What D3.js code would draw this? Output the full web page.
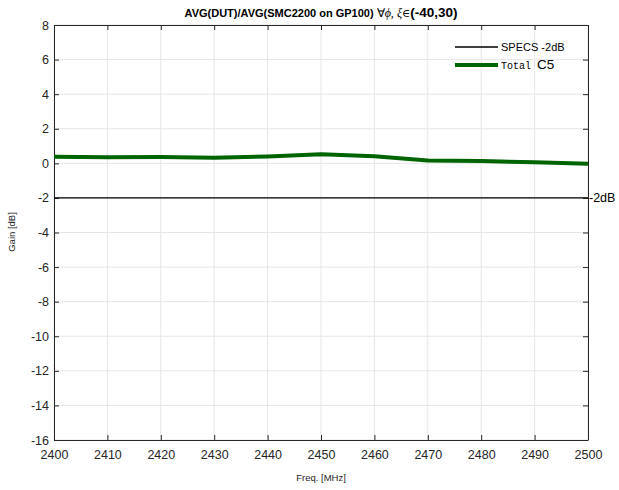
<!DOCTYPE html>
<html><head><meta charset="utf-8">
<script src="https://d3js.org/d3.v7.min.js"></script>
<style>body{margin:0;background:#fff}svg{display:block}</style>
</head><body><svg id="c" width="619" height="490"></svg>
<script>
const freqs = [2400,2410,2420,2430,2440,2450,2460,2470,2480,2490,2500];
const gainC5 = [0.38,0.35,0.36,0.32,0.40,0.52,0.41,0.17,0.13,0.06,-0.02];
const specLevel = -2;
const xTicks = [2400,2410,2420,2430,2440,2450,2460,2470,2480,2490,2500];
const yTicks = [-16,-14,-12,-10,-8,-6,-4,-2,0,2,4,6,8];

const svg = d3.select('#c');
const L=54,R=588,T=25,B=440;
const x = d3.scaleLinear().domain([2400,2500]).range([L,R]);
const y = d3.scaleLinear().domain([-16,8]).range([B,T]);
const font = 'Liberation Sans, Arial, sans-serif';

// grid
svg.append('g').selectAll('line').data(xTicks).join('line')
  .attr('x1',d=>x(d)).attr('x2',d=>x(d)).attr('y1',T).attr('y2',B)
  .attr('stroke','#e6e6e6').attr('stroke-width',1);
svg.append('g').selectAll('line').data(yTicks).join('line')
  .attr('y1',d=>y(d)).attr('y2',d=>y(d)).attr('x1',L).attr('x2',R)
  .attr('stroke','#e6e6e6').attr('stroke-width',1);

// axes
const xa = svg.append('g').attr('transform',`translate(0,${B})`)
  .call(d3.axisBottom(x).tickValues(xTicks).tickFormat(d3.format('d')).tickSizeInner(-5).tickSizeOuter(0).tickPadding(10));
const ya = svg.append('g').attr('transform',`translate(${L},0)`)
  .call(d3.axisLeft(y).tickValues(yTicks).tickFormat(d=>d).tickSizeInner(-5).tickSizeOuter(0).tickPadding(5));
[xa,ya].forEach(a=>{
  a.selectAll('text').attr('font-family',font).attr('font-size',12.5).attr('fill','#262626');
  a.selectAll('.tick line').attr('stroke','#262626');
  a.select('.domain').attr('stroke','#262626');
});
// top & right box
svg.append('line').attr('x1',L).attr('x2',R).attr('y1',T+0.5).attr('y2',T+0.5).attr('stroke','#262626');
svg.append('line').attr('x1',R+0.5).attr('x2',R+0.5).attr('y1',T).attr('y2',B).attr('stroke','#262626');
const ra = svg.append('g').attr('transform',`translate(${R},0)`)
  .call(d3.axisRight(y).tickValues(yTicks).tickFormat('').tickSizeInner(-5).tickSizeOuter(0));
ra.select('.domain').remove(); ra.selectAll('.tick line').attr('stroke','#262626');
const ta = svg.append('g').attr('transform',`translate(0,${T})`)
  .call(d3.axisTop(x).tickValues(xTicks).tickFormat('').tickSizeInner(-5).tickSizeOuter(0));
ta.select('.domain').remove(); ta.selectAll('.tick line').attr('stroke','#262626');

// spec line
svg.append('line').attr('x1',x(2400)).attr('x2',x(2500)).attr('y1',y(specLevel)).attr('y2',y(specLevel))
  .attr('stroke','#000').attr('stroke-width',1.3);
svg.append('text').attr('x',R+1).attr('y',y(specLevel)+4.5).text('-2dB')
  .attr('font-family',font).attr('font-size',12.5).attr('fill','#000');

// data line
const line = d3.line().x((d,i)=>x(freqs[i])).y(d=>y(d));
svg.append('path').datum(gainC5).attr('d',line).attr('fill','none')
  .attr('stroke','#006400').attr('stroke-width',4).attr('stroke-linejoin','round');

// legend
svg.append('line').attr('x1',455).attr('x2',498).attr('y1',47).attr('y2',47).attr('stroke','#000').attr('stroke-width',1.3);
svg.append('text').attr('x',501).attr('y',51).text('SPECS -2dB').attr('font-family',font).attr('font-size',11).attr('fill','#000');
svg.append('line').attr('x1',455).attr('x2',498).attr('y1',65).attr('y2',65).attr('stroke','#006400').attr('stroke-width',4);
const lt = svg.append('text').attr('x',501).attr('y',69).attr('fill','#000');
lt.append('tspan').text('Total ').attr('font-family','Liberation Mono, Courier New, monospace').attr('font-size',10);
lt.append('tspan').text('C5').attr('font-family',font).attr('font-size',13.5);

// title
const tt = svg.append('text').attr('x',321).attr('y',17).attr('text-anchor','middle').attr('fill','#000').attr('font-weight','bold');
tt.append('tspan').text('AVG(DUT)/AVG(SMC2200 on GP100) ').attr('font-family',font).attr('font-size',11);
tt.append('tspan').text('∀').attr('font-family','Liberation Serif, serif').attr('font-size',12).attr('font-weight','normal');
tt.append('tspan').text('ϕ, ').attr('font-family','Liberation Serif, serif').attr('font-style','italic').attr('font-size',12).attr('font-weight','normal');
tt.append('tspan').text('ξ').attr('font-family','Liberation Serif, serif').attr('font-style','italic').attr('font-size',12).attr('font-weight','normal');
tt.append('tspan').text('∈').attr('font-family','DejaVu Serif, serif').attr('font-size',11).attr('font-weight','normal');
tt.append('tspan').text('(-40,30)').attr('font-family',font).attr('font-size',13.5);

// axis titles
svg.append('text').attr('x',321).attr('y',481).attr('text-anchor','middle').text('Freq. [MHz]')
  .attr('font-family',font).attr('font-size',9.5).attr('fill','#262626');
svg.append('text').attr('transform','translate(15,232) rotate(-90)').attr('text-anchor','middle').text('Gain [dB]')
  .attr('font-family',font).attr('font-size',9.5).attr('fill','#262626');
</script></body></html>
